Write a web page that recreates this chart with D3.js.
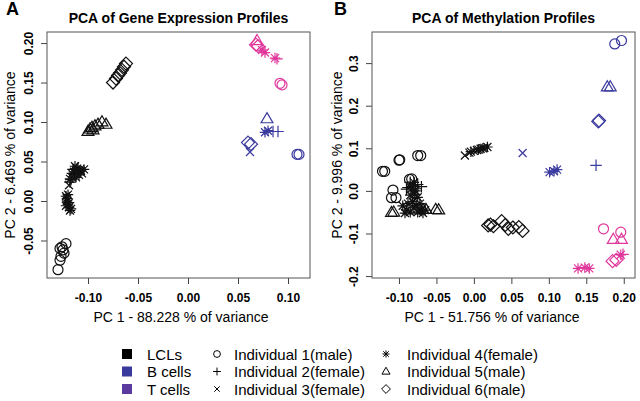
<!DOCTYPE html>
<html>
<head>
<meta charset="utf-8">
<script src="https://cdn.jsdelivr.net/npm/d3@7"></script>
<style>
  body { margin: 0; background: #fff; }
  svg { font-family: "Liberation Sans", Arial, Helvetica, sans-serif; }
  .tick text { font-weight: bold; font-size: 12px; fill: #000; }
  .tick line { stroke: #444; }
</style>
</head>
<body>
<script>
// ---- data: [individual, PC1, PC2] ----
// gene expression panel
const geneLCL = [
  [1,-0.130,-0.087],[1,-0.128,-0.075],[1,-0.127,-0.070],[1,-0.125,-0.062],[1,-0.126,-0.058],
  [1,-0.122,-0.054],[1,-0.128,-0.060],[1,-0.124,-0.066],
  [2,-0.115,0.040],[3,-0.112,0.038],[2,-0.110,0.036],[3,-0.108,0.040],[2,-0.113,0.033],
  [3,-0.106,0.035],[2,-0.110,0.042],[3,-0.116,0.030],[2,-0.118,0.024],[3,-0.119,0.020],[2,-0.117,0.027],
  [4,-0.114,0.037],[4,-0.111,0.041],[4,-0.109,0.033],[4,-0.107,0.038],[4,-0.113,0.044],
  [4,-0.104,0.040],[4,-0.116,0.035],[4,-0.112,0.030],[4,-0.118,0.028],
  [4,-0.122,0.006],[4,-0.121,0.000],[4,-0.120,-0.004],[4,-0.119,-0.008],[4,-0.118,-0.012],
  [4,-0.121,0.003],[4,-0.119,-0.002],[4,-0.117,-0.010],[4,-0.122,-0.006],[4,-0.120,0.008],
  [5,-0.100,0.088],[5,-0.098,0.091],[5,-0.096,0.093],[5,-0.093,0.095],[5,-0.090,0.097],
  [5,-0.086,0.100],[5,-0.082,0.097],[5,-0.095,0.090],
  [6,-0.075,0.150],[6,-0.072,0.155],[6,-0.070,0.159],[6,-0.068,0.162],[6,-0.066,0.166],
  [6,-0.064,0.170],[6,-0.062,0.174]
];
const geneBcell = [
  [5,0.079,0.104],[4,0.077,0.087],[4,0.080,0.089],[2,0.085,0.088],[2,0.090,0.088],
  [6,0.060,0.074],[6,0.063,0.072],[3,0.062,0.062],[1,0.109,0.059],[1,0.111,0.059]
];
const geneTcell = [
  [5,0.069,0.203],[6,0.068,0.198],[6,0.070,0.196],[4,0.074,0.191],[4,0.077,0.188],
  [4,0.087,0.181],[2,0.089,0.180],[1,0.092,0.149],[1,0.094,0.147]
];
// methylation panel
const methLCL = [
  [1,-0.122,0.046],[1,-0.119,0.046],[1,-0.100,0.072],[1,-0.099,0.073],[1,-0.075,0.083],
  [1,-0.071,0.083],[1,-0.086,0.027],[1,-0.083,0.028],[1,-0.108,0.002],[1,-0.110,-0.016],[1,-0.104,-0.016],
  [2,-0.088,0.008],[2,-0.082,0.010],[2,-0.078,0.005],[2,-0.070,0.010],[2,-0.085,0.020],[2,-0.075,0.015],
  [2,-0.080,0.012],[2,-0.090,0.004],
  [4,-0.080,0.020],[4,-0.078,0.000],[4,-0.085,-0.010],[4,-0.075,-0.015],[4,-0.095,-0.035],
  [4,-0.090,-0.045],[4,-0.080,-0.040],[4,-0.075,-0.050],[4,-0.070,-0.045],[4,-0.085,-0.050],
  [4,-0.072,-0.030],[4,-0.065,-0.045],[4,-0.082,-0.025],[4,-0.077,-0.035],[4,-0.088,-0.030],
  [4,-0.068,-0.052],[4,-0.092,-0.052],[4,-0.079,-0.008],[4,-0.083,0.006],
  [5,-0.110,-0.051],[5,-0.107,-0.050],[5,-0.068,-0.044],[5,-0.064,-0.044],[5,-0.051,-0.044],
  [5,-0.047,-0.045],[5,-0.078,-0.045],
  [3,-0.012,0.083],[3,-0.006,0.090],[3,0.000,0.094],[3,0.004,0.096],[3,0.009,0.099],[3,0.014,0.101],
  [4,-0.004,0.092],[4,0.006,0.097],[4,0.012,0.100],[4,0.018,0.103],
  [6,0.019,-0.081],[6,0.026,-0.083],[6,0.037,-0.071],[6,0.046,-0.089],[6,0.052,-0.086],
  [6,0.060,-0.085],[6,0.065,-0.094],[6,0.022,-0.079],[6,0.042,-0.080]
];
const methBcell = [
  [3,0.065,0.089],[4,0.101,0.044],[4,0.107,0.046],[4,0.111,0.050],[2,0.163,0.060],
  [6,0.166,0.163],[6,0.167,0.165],[5,0.178,0.244],[5,0.182,0.244],[1,0.188,0.345],[1,0.197,0.353]
];
const methTcell = [
  [1,0.173,-0.089],[1,0.196,-0.097],[5,0.186,-0.114],[5,0.197,-0.114],[6,0.185,-0.165],
  [6,0.190,-0.162],[2,0.199,-0.149],[4,0.196,-0.150],[4,0.139,-0.182],[4,0.148,-0.180],[4,0.154,-0.182]
];

const geneXTicks = [-0.10,-0.05,0.00,0.05,0.10];
const geneYTicks = [-0.05,0.00,0.05,0.10,0.15,0.20];
const methXTicks = [-0.10,-0.05,0.00,0.05,0.10,0.15,0.20];
const methYTicks = [-0.2,-0.1,0.0,0.1,0.2,0.3];

const cellTypes = ["LCLs","B cells","T cells"];
const pointColors = ["#111111","#3b3a9e","#e0369b"];
const legendColors = ["#000000","#3a3a9c","#5a3a9e"];
const individuals = ["Individual 1(male)","Individual 2(female)","Individual 3(female)",
                     "Individual 4(female)","Individual 5(male)","Individual 6(male)"];
const shapes = ["circle","plus","cross","star","triangle","diamond"];

// ---- drawing ----
const width = 640, height = 401;
const svg = d3.select("body").append("svg")
  .attr("width", width).attr("height", height);

function shapePath(t, s) {
  const p = d3.path();
  if (t === "circle") { p.moveTo(s, 0); p.arc(0, 0, s, 0, 2*Math.PI); }
  if (t === "plus" || t === "star") {
    const q = t === "star" ? s*1.05 : s*1.15;
    p.moveTo(-q, 0); p.lineTo(q, 0); p.moveTo(0, -q); p.lineTo(0, q);
  }
  if (t === "cross" || t === "star") {
    const q = s*0.8;
    p.moveTo(-q, -q); p.lineTo(q, q); p.moveTo(-q, q); p.lineTo(q, -q);
  }
  if (t === "triangle") {
    const q = s*1.25;
    p.moveTo(0, -q); p.lineTo(q*0.95, q*0.62); p.lineTo(-q*0.95, q*0.62); p.closePath();
  }
  if (t === "diamond") {
    const q = s*1.3;
    p.moveTo(0, -q); p.lineTo(q, 0); p.lineTo(0, q); p.lineTo(-q, 0); p.closePath();
  }
  return p.toString();
}

const panels = [
  {letter:"A", letterX:6, title:"PCA of Gene Expression Profiles",
   xlab:"PC 1 - 88.228 % of variance", ylab:"PC 2 - 6.469 % of variance",
   left:47, right:310, top:32, bottom:278,
   xdom:[-0.141,0.122], ydom:[-0.0975,0.214],
   xticks:geneXTicks, yticks:geneYTicks, ydec:2,
   groups:[geneLCL, geneBcell, geneTcell], xlabX:181, ylabX:15},
  {letter:"B", letterX:334, title:"PCA of Methylation Profiles",
   xlab:"PC 1 - 51.756 % of variance", ylab:"PC 2 - 9.996 % of variance",
   left:372, right:635, top:32, bottom:278,
   xdom:[-0.136,0.215], ydom:[-0.2045,0.373],
   xticks:methXTicks, yticks:methYTicks, ydec:1,
   groups:[methLCL, methBcell, methTcell], xlabX:492, ylabX:342}
];

panels.forEach(function(P) {
  let x = d3.scaleLinear().domain(P.xdom).range([P.left, P.right]);
  let y = d3.scaleLinear().domain(P.ydom).range([P.bottom, P.top]);

  // x axis
  let gx = svg.append("g")
    .attr("transform", "translate(0," + P.bottom + ")")
    .call(d3.axisBottom(x).tickValues(P.xticks).tickSize(6).tickSizeOuter(0)
      .tickFormat(d => d.toFixed(2)));
  gx.select(".domain").remove();
  gx.selectAll(".tick text").attr("dy", null).attr("y", 24);

  // y axis, labels rotated like R
  let gy = svg.append("g")
    .attr("transform", "translate(" + P.left + ",0)")
    .call(d3.axisLeft(y).tickValues(P.yticks).tickSize(6).tickSizeOuter(0)
      .tickFormat(d => d.toFixed(P.ydec)));
  gy.select(".domain").remove();
  gy.selectAll(".tick text")
    .attr("dy", null).attr("x", 0).attr("y", -14)
    .attr("transform", "rotate(-90)")
    .attr("text-anchor", "middle");

  // box
  svg.append("rect")
    .attr("x", P.left).attr("y", P.top)
    .attr("width", P.right - P.left).attr("height", P.bottom - P.top)
    .attr("fill", "none").attr("stroke", "#555").attr("stroke-width", 1);

  // points
  P.groups.forEach(function(grp, gi) {
    svg.append("g").selectAll("path")
      .data(grp)
      .join("path")
        .attr("transform", d => "translate(" + x(d[1]) + "," + y(d[2]) + ")")
        .attr("d", d => shapePath(shapes[d[0]-1], 5))
        .attr("fill", "none")
        .attr("stroke", pointColors[gi])
        .attr("stroke-width", 1.2);
  });

  // titles
  svg.append("text")
    .attr("x", (P.left + P.right)/2).attr("y", 23)
    .attr("text-anchor", "middle")
    .style("font-weight", "bold").style("font-size", "14px")
    .text(P.title);
  svg.append("text")
    .attr("x", P.letterX).attr("y", 15)
    .style("font-weight", "bold").style("font-size", "18px")
    .text(P.letter);
  svg.append("text")
    .attr("x", P.xlabX).attr("y", 322)
    .attr("text-anchor", "middle")
    .style("font-size", "14px")
    .text(P.xlab);
  svg.append("text")
    .attr("transform", "translate(" + P.ylabX + "," + ((P.top + P.bottom)/2) + ") rotate(-90)")
    .attr("text-anchor", "middle")
    .style("font-size", "14px")
    .text(P.ylab);
});

// ---- legend ----
const rowY = [354, 371.5, 389];
const leg = svg.append("g").style("font-size", "15px");

cellTypes.forEach(function(c, i) {
  leg.append("rect")
    .attr("x", 122).attr("y", rowY[i] - 5)
    .attr("width", 10).attr("height", 10)
    .attr("fill", legendColors[i]);
  leg.append("text").attr("x", 147).attr("y", rowY[i] + 5.5).text(c);
});

individuals.forEach(function(name, i) {
  const col = Math.floor(i / 3), row = i % 3;
  const sx = col === 0 ? 217 : 386;
  const tx = col === 0 ? 234 : 407;
  leg.append("path")
    .attr("transform", "translate(" + sx + "," + rowY[row] + ")")
    .attr("d", shapePath(shapes[i], 3.4))
    .attr("fill", "none").attr("stroke", "#000").attr("stroke-width", 1);
  leg.append("text").attr("x", tx).attr("y", rowY[row] + 5.5).text(name);
});
</script>
</body>
</html>
